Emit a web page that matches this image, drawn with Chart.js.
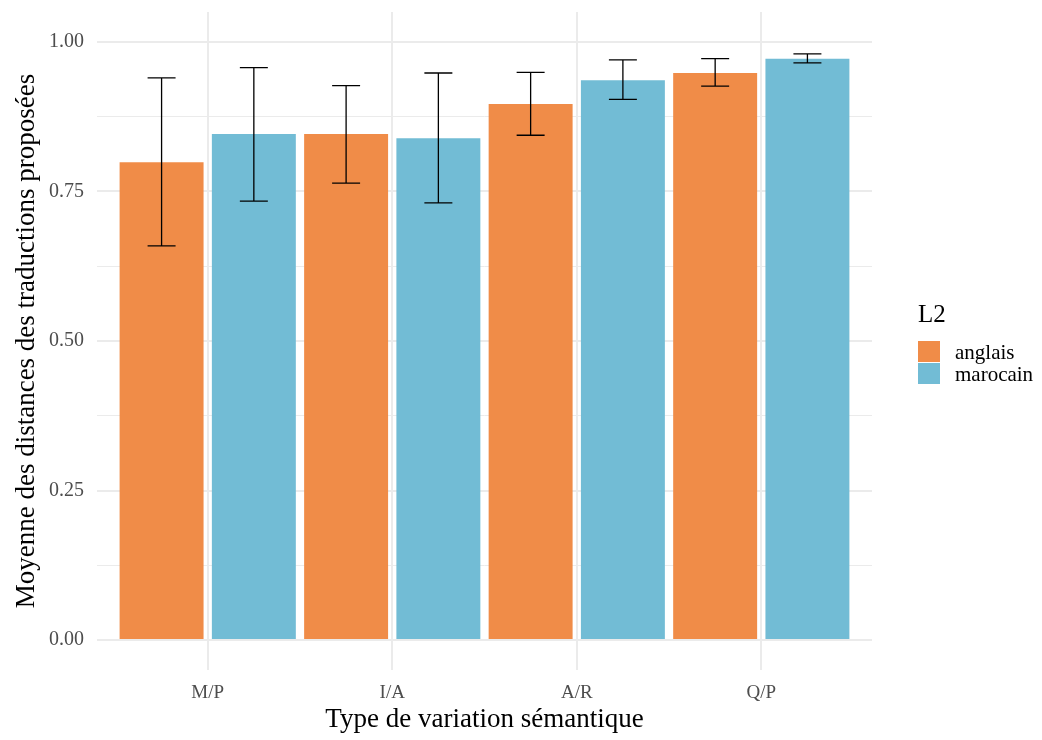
<!DOCTYPE html>
<html><head><meta charset="utf-8">
<script src="https://cdn.jsdelivr.net/npm/chart.js@4/dist/chart.umd.min.js"></script>
<style>
html,body{margin:0;padding:0;background:#fff;}
#wrap{position:relative;width:1042px;height:740px;}
#legend{position:absolute;left:918px;top:299px;font-family:"Liberation Serif",serif;color:#000;}
#legend .t{font-size:25px;line-height:30px;margin-bottom:12px;}
#legend .r{display:flex;align-items:center;height:22px;font-size:21px;}
#legend .s{width:22px;height:21px;margin-right:15px;border-bottom:1px solid #fff;}
</style></head>
<body><div id="wrap"><canvas id="c" width="1042" height="740"></canvas>
<div id="legend"><div class="t">L2</div>
<div class="r"><div class="s" style="background:#F08C48"></div><span>anglais</span></div>
<div class="r"><div class="s" style="background:#72BCD5"></div><span>marocain</span></div></div></div>
<script>
const categories = ['M/P', 'I/A', 'A/R', 'Q/P'];
const seriesNames = ['anglais', 'marocain'];
const anglais = [0.799, 0.846, 0.896, 0.948];
const anglaisLow = [0.659, 0.764, 0.844, 0.926];
const anglaisHigh = [0.940, 0.927, 0.949, 0.972];
const marocain = [0.846, 0.839, 0.936, 0.972];
const marocainLow = [0.734, 0.731, 0.904, 0.965];
const marocainHigh = [0.957, 0.948, 0.970, 0.980];
const yTicks = [0, 0.25, 0.5, 0.75, 1.0];
const yMinorTicks = [0.125, 0.375, 0.625, 0.875];

const FONT = '"Liberation Serif", serif';
const errLow = [anglaisLow, marocainLow];
const errHigh = [anglaisHigh, marocainHigh];

const errorBars = {
  id: 'errorBars',
  afterDatasetsDraw(chart) {
    const ctx = chart.ctx;
    const ys = chart.scales.y;
    ctx.save();
    ctx.strokeStyle = '#000';
    ctx.lineWidth = 1.3;
    chart.data.datasets.forEach((ds, di) => {
      const meta = chart.getDatasetMeta(di);
      meta.data.forEach((bar, i) => {
        const x = bar.x;
        const hw = bar.width / 6;
        const yl = ys.getPixelForValue(errLow[di][i]);
        const yh = ys.getPixelForValue(errHigh[di][i]);
        ctx.beginPath();
        ctx.moveTo(x, yl); ctx.lineTo(x, yh);
        ctx.moveTo(x - hw, yl); ctx.lineTo(x + hw, yl);
        ctx.moveTo(x - hw, yh); ctx.lineTo(x + hw, yh);
        ctx.stroke();
      });
    });
    ctx.restore();
  }
};

const allY = yTicks.concat(yMinorTicks).sort((a, b) => a - b);

new Chart(document.getElementById('c'), {
  type: 'bar',
  data: {
    datasets: [
      { label: seriesNames[0], data: anglais.map((v, i) => ({x: i, y: v})), backgroundColor: '#F08C48' },
      { label: seriesNames[1], data: marocain.map((v, i) => ({x: i, y: v})), backgroundColor: '#72BCD5' }
    ]
  },
  options: {
    responsive: false,
    animation: false,
    layout: { padding: { top: 12, right: 170, left: 0, bottom: 0 } },
    datasets: { bar: { categoryPercentage: 1.0, barPercentage: 0.91 } },
    plugins: { legend: { display: false }, tooltip: { enabled: false } },
    scales: {
      x: {
        type: 'linear',
        offset: false,
        min: -0.6, max: 3.6,
        afterBuildTicks: s => { s.ticks = categories.map((c, i) => ({ value: i })); },
        afterFit: s => { s.height = 70; s.paddingLeft = 0; s.paddingRight = 0; },
        border: { display: false },
        grid: { color: '#EBEBEB', lineWidth: 2, drawTicks: false, offset: false },
        ticks: {
          callback: v => categories[v],
          font: { family: FONT, size: 19 }, color: '#4D4D4D', padding: 12, maxRotation: 0, autoSkip: false
        },
        title: { display: true, text: 'Type de variation sémantique', font: { family: FONT, size: 27 }, color: '#000', padding: { top: 0, bottom: 4 } }
      },
      y: {
        min: -0.05, max: 1.05,
        afterBuildTicks: s => { s.ticks = allY.map(v => ({ value: v })); },
        afterFit: s => { s.width = 97; s.paddingTop = 0; s.paddingBottom = 0; },
        border: { display: false },
        grid: {
          color: '#EBEBEB',
          lineWidth: c => (yTicks.includes(c.tick.value) ? 2 : 1),
          drawTicks: false
        },
        ticks: {
          callback: v => (yTicks.includes(v) ? v.toFixed(2) : ''),
          font: { family: FONT, size: 20 }, color: '#4D4D4D', padding: 13, autoSkip: false
        },
        title: { display: true, text: 'Moyenne des distances des traductions proposées', font: { family: FONT, size: 27 }, color: '#000', padding: { top: 11, bottom: 0 } }
      }
    }
  },
  plugins: [errorBars]
});
</script></body></html>
